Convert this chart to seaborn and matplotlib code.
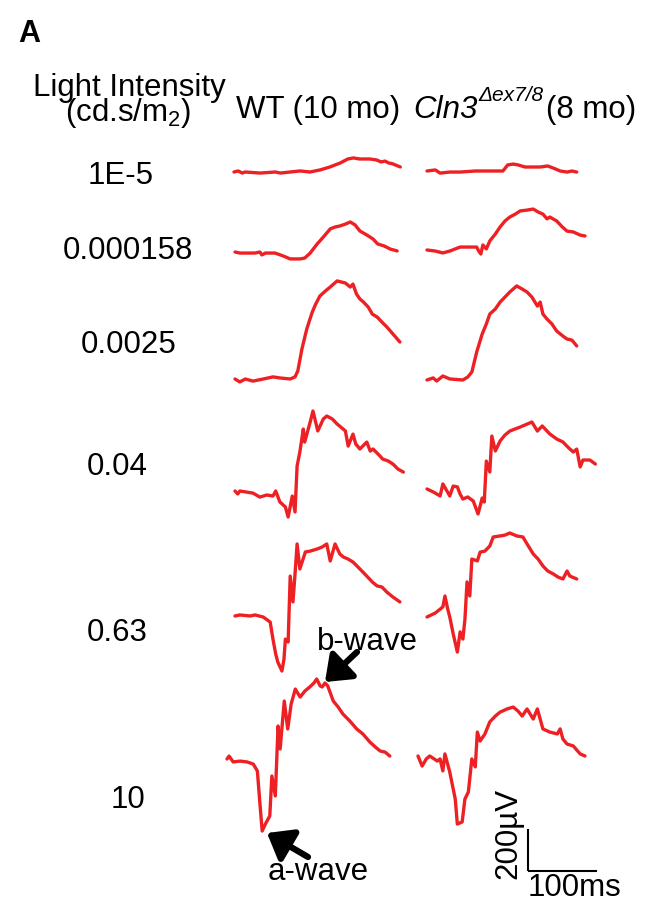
import numpy as np
import matplotlib
matplotlib.use("Agg")
import matplotlib.pyplot as plt
import seaborn as sns

# ---------------- data (time in ms after trace start, amplitude in µV) ----------------
intensity_labels = ["1E-5", "0.000158", "0.0025", "0.04", "0.63", "10"]
group_labels = ["WT (10 mo)", "Cln3", "\u0394ex7/8", "(8 mo)"]

wt_r1_t = [0, 6, 12, 16, 38, 60, 67, 96, 110, 125, 139, 154, 165, 173, 182, 197, 207, 213, 219, 224, 229, 241]
wt_r1_v = [0, 5, -5, 0, -5, 0, -5, 5, 0, 10, 24, 43, 62, 67, 62, 62, 57, 48, 52, 43, 40, 24]
ko_r1_t = [0, 12, 19, 33, 48, 70, 91, 110, 117, 125, 132, 142, 164, 175, 186, 193, 203, 210, 217]
ko_r1_v = [0, 5, -10, -5, -5, 0, 0, 0, 29, 33, 29, 19, 19, 24, 10, 0, -5, 0, -5]

wt_r2_t = [0, 7, 29, 36, 39, 44, 58, 70, 80, 94, 101, 109, 119, 128, 138, 145, 152, 160, 167, 174, 181, 191, 200, 207, 216, 225, 235]
wt_r2_v = [0, -5, -5, 0, -14, -5, -5, -19, -33, -33, -29, -5, 38, 71, 110, 119, 124, 133, 143, 129, 100, 81, 62, 38, 29, 14, 5]
ko_r2_t = [0, 12, 23, 33, 48, 62, 72, 75, 78, 81, 86, 91, 99, 106, 113, 120, 128, 135, 145, 154, 161, 168, 174, 178, 188, 196, 203, 212, 222, 229]
ko_r2_v = [0, -5, -14, -5, 14, 14, 14, -5, -19, 24, 5, 43, 76, 110, 138, 157, 171, 186, 190, 195, 181, 171, 148, 157, 138, 110, 90, 86, 71, 67]

wt_r3_t = [0, 7, 15, 26, 41, 55, 65, 80, 87, 91, 97, 104, 112, 117, 123, 131, 138, 148, 160, 167, 171, 176, 181, 186, 193, 199, 206, 213, 220, 229, 239]
wt_r3_v = [0, -14, 0, -10, 0, 10, 5, 0, 10, 38, 143, 238, 319, 357, 395, 419, 438, 467, 457, 438, 452, 405, 381, 367, 343, 309, 295, 271, 248, 214, 176]
ko_r3_t = [0, 9, 14, 23, 33, 52, 59, 65, 72, 80, 86, 91, 99, 106, 113, 120, 130, 138, 145, 152, 160, 164, 168, 174, 181, 188, 197, 203, 210, 217]
ko_r3_v = [0, 10, -5, 19, 5, 0, 14, 38, 133, 219, 267, 314, 338, 371, 395, 419, 448, 433, 419, 395, 352, 371, 314, 290, 267, 233, 209, 195, 190, 162]

wt_r4_t = [0, 4, 7, 26, 36, 46, 55, 59, 65, 73, 77, 83, 87, 90, 94, 99, 101, 109, 113, 120, 128, 133, 141, 148, 160, 164, 171, 175, 181, 191, 196, 200, 210, 214, 222, 229, 236, 244]
wt_r4_v = [0, -14, 0, -10, -29, -19, -24, 0, -52, -76, -124, -24, -100, 119, 186, 295, 233, 329, 381, 286, 343, 357, 343, 319, 286, 214, 271, 224, 200, 233, 190, 200, 167, 152, 143, 128, 105, 90]
ko_r4_t = [0, 9, 19, 23, 29, 33, 38, 44, 48, 52, 59, 67, 74, 80, 83, 86, 91, 94, 99, 106, 113, 120, 135, 145, 152, 160, 167, 178, 188, 197, 204, 212, 217, 222, 226, 236, 244]
ko_r4_v = [0, -14, -33, 24, -10, -33, 14, 10, -24, -48, -38, -57, -119, -43, -62, 133, 81, 252, 181, 229, 257, 276, 295, 309, 319, 276, 300, 262, 238, 224, 200, 176, 190, 105, 138, 138, 119]

wt_r5_t = [0, 7, 22, 29, 41, 51, 55, 59, 62, 68, 71, 73, 77, 80, 84, 87, 90, 94, 102, 109, 119, 126, 133, 138, 145, 152, 157, 164, 171, 181, 191, 199, 206, 213, 220, 229, 239]
wt_r5_v = [0, 5, 0, 5, -5, -29, -110, -181, -219, -262, -205, -110, -124, 190, 67, 200, 343, 224, 305, 309, 319, 328, 343, 262, 343, 295, 281, 271, 257, 224, 190, 162, 143, 138, 114, 90, 67]
ko_r5_t = [0, 12, 23, 26, 30, 33, 38, 44, 48, 52, 55, 58, 62, 65, 73, 77, 84, 91, 96, 106, 113, 120, 130, 139, 145, 154, 161, 168, 175, 183, 190, 197, 203, 207, 217]
ko_r5_v = [0, 19, 48, 100, 38, 0, -81, -167, -71, -105, -10, 167, 100, 276, 267, 309, 314, 338, 381, 386, 390, 400, 386, 381, 348, 300, 276, 243, 219, 205, 190, 181, 219, 195, 181]

wt_r6_t = [0, 3, 9, 19, 29, 38, 44, 48, 51, 55, 58, 62, 65, 70, 74, 77, 83, 88, 93, 99, 106, 113, 120, 126, 130, 135, 138, 142, 146, 154, 161, 168, 178, 188, 197, 207, 215, 222, 229, 236]
wt_r6_v = [0, 14, -14, -10, -14, -24, -57, -224, -343, -314, -295, -271, -81, -176, 157, 48, 276, 143, 262, 333, 295, 324, 343, 362, 381, 348, 343, 362, 348, 276, 248, 214, 181, 143, 119, 81, 57, 38, 33, 14]
ko_r6_t = [0, 6, 12, 17, 28, 32, 36, 39, 46, 54, 57, 64, 68, 73, 78, 83, 86, 90, 97, 104, 112, 119, 129, 138, 145, 151, 158, 167, 173, 181, 191, 202, 206, 210, 216, 225, 235, 242]
ko_r6_v = [0, -48, -14, 0, -24, -14, -71, 10, -76, -205, -324, -314, -205, -171, -14, -52, 114, 71, 105, 162, 190, 209, 224, 233, 214, 190, 224, 176, 224, 129, 114, 105, 129, 81, 57, 48, 10, 0]

scale_ms = 100
scale_uv = 200

# ---------------- layout ----------------
W, H = 653, 904
MS_PER_PX = 100 / 69.0
UV_PER_PX = 200 / 42.0
RED = "#ED2024"
FS = 22.5

sns.set_theme(style="white")
plt.rcParams["font.family"] = ["Liberation Sans", "DejaVu Sans"]
plt.rcParams["text.color"] = "black"
plt.rcParams["mathtext.fontset"] = "custom"
plt.rcParams["mathtext.rm"] = "Liberation Sans"
plt.rcParams["mathtext.it"] = "Liberation Sans:italic"

fig = plt.figure(figsize=(W / 100, H / 100), dpi=100)
ax = fig.add_axes([0, 0, 1, 1])
ax.set_xlim(0, W * MS_PER_PX)
ax.set_ylim(-H * UV_PER_PX, 0)
ax.axis("off")

traces = [
    (wt_r1_t, wt_r1_v, 234, 173), (ko_r1_t, ko_r1_v, 427, 172),
    (wt_r2_t, wt_r2_v, 235, 253), (ko_r2_t, ko_r2_v, 427, 251),
    (wt_r3_t, wt_r3_v, 235, 380), (ko_r3_t, ko_r3_v, 427, 381),
    (wt_r4_t, wt_r4_v, 235, 492), (ko_r4_t, ko_r4_v, 427, 490),
    (wt_r5_t, wt_r5_v, 235, 617), (ko_r5_t, ko_r5_v, 427, 618),
    (wt_r6_t, wt_r6_v, 227, 760), (ko_r6_t, ko_r6_v, 418, 757),
]
for t, v, px, py in traces:
    x = np.asarray(t, float) + px * MS_PER_PX
    y = np.asarray(v, float) - py * UV_PER_PX
    sns.lineplot(x=x, y=y, ax=ax, color=RED, lw=2.4, sort=False, estimator=None)

# scale bar
sx0, sy0 = 528 * MS_PER_PX, -872 * UV_PER_PX
ax.plot([sx0, sx0 + scale_ms], [sy0, sy0], color="black", lw=1.5, solid_capstyle="butt")
ax.plot([sx0, sx0], [sy0, sy0 + scale_uv], color="black", lw=1.5, solid_capstyle="butt")


def ftext(x, y, s, **kw):
    return fig.text(x / W, 1 - y / H, s, color="black", **kw)


ftext(18, 42, "A", fontsize=22, fontweight="bold", va="baseline")
ftext(129, 96, "Light Intensity", fontsize=FS, ha="center", va="baseline")
ftext(128, 121, r"(cd.s/m$_\mathregular{2}$)", fontsize=FS, ha="center", va="baseline")
ftext(236, 118, group_labels[0], fontsize=FS, va="baseline")

renderer = fig.canvas.get_renderer()
t1 = ftext(413, 118, group_labels[1], fontsize=FS, style="italic", va="baseline")
bb = t1.get_window_extent(renderer)
t2 = fig.text((bb.x1 + 1) / W, 1 - 101 / H, group_labels[2], fontsize=15, style="italic",
              va="baseline", color="black")
bb2 = t2.get_window_extent(renderer)
fig.text((bb2.x1 + 3) / W, 1 - 118 / H, group_labels[3], fontsize=FS, va="baseline", color="black")

label_pos = [(121, 184), (128, 259), (129, 353), (117, 475), (117, 641), (128, 808)]
for lab, (lx, ly) in zip(intensity_labels, label_pos):
    ftext(lx, ly, lab, fontsize=FS, ha="center", va="baseline")

ftext(317, 650, "b-wave", fontsize=FS, va="baseline")
ftext(268, 880, "a-wave", fontsize=FS, va="baseline")
ftext(508, 833, "200\u00b5V", fontsize=FS, rotation=90, ha="center", va="center")
ftext(528, 896, "100ms", fontsize=FS, va="baseline")

arrow_kw = dict(arrowstyle="-|>,head_length=0.65,head_width=0.5", color="black", lw=4.5,
                mutation_scale=22, shrinkA=0, shrinkB=0)
ax.annotate("", xy=(325, H - 683), xytext=(357, H - 653), xycoords="figure pixels",
            textcoords="figure pixels", arrowprops=arrow_kw)
ax.annotate("", xy=(267, H - 834), xytext=(308, H - 858), xycoords="figure pixels",
            textcoords="figure pixels", arrowprops=arrow_kw)

fig.savefig("out.png", dpi=100)
